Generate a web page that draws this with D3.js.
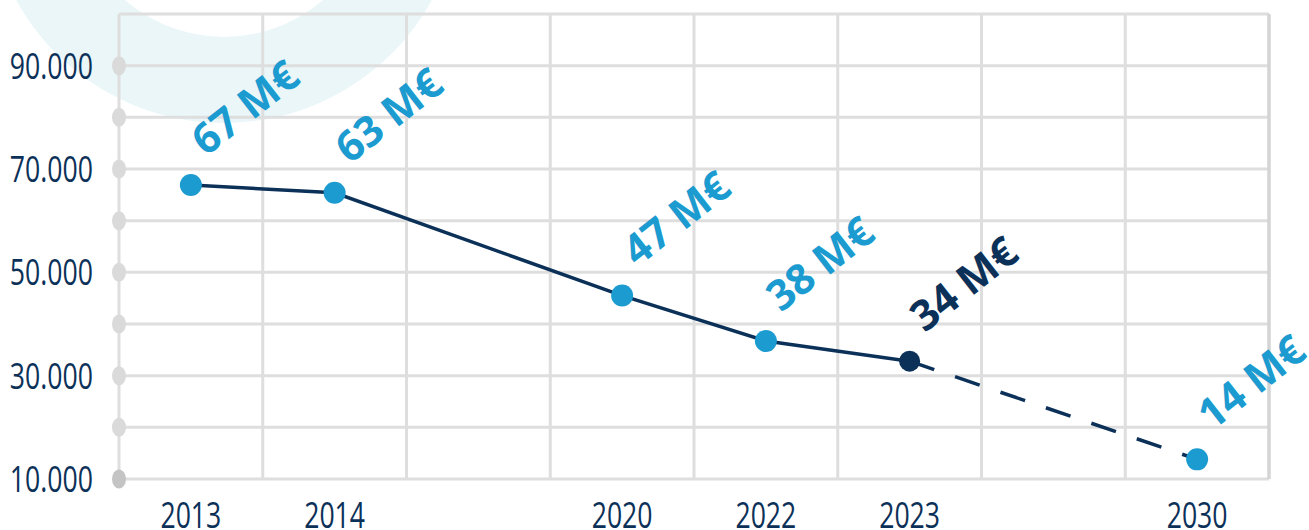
<!DOCTYPE html>
<html>
<head>
<meta charset="utf-8">
<script src="https://cdn.jsdelivr.net/npm/d3@7"></script>
<style>
  html, body { margin: 0; padding: 0; background: #fff; }
  svg { display: block; }
</style>
</head>
<body>
<svg id="chart" width="1309" height="530"></svg>
<script>
// ---- data ----
const slots = ["2013", "2014", "gapA", "2020", "2022", "2023", "gapB", "2030"];
const years = ["2013", "2014", "2020", "2022", "2023", "2030"];
const values = [66900, 65400, 45500, 36700, 32800, 13800];
const valueLabels = ["67 M€", "63 M€", "47 M€", "38 M€", "34 M€", "14 M€"];
const projected = [false, false, false, false, false, true];
const currentYear = "2023";
const yTickLabels = [10000, 30000, 50000, 70000, 90000];
const yDomain = [10000, 100000];

// ---- layout ----
const W = 1309, H = 530;
const margin = { left: 119, right: 40, top: 14, bottom: 51 };
const svg = d3.select("#chart");

const x = d3.scaleBand().domain(slots).range([margin.left, W - margin.right]).padding(0);
const y = d3.scaleLinear().domain(yDomain).range([H - margin.bottom, margin.top]);

const navy = "#0c3159";
const blue = "#1b9bd0";
const grid = "#dedede";
const axisFont = "'Open Sans', 'Noto Sans', sans-serif";
const squeeze = 0.74;

// background ring
svg.append("path")
  .attr("fill", "#eaf6f8")
  .attr("d", d3.arc()({ innerRadius: 151, outerRadius: 237, startAngle: 0, endAngle: 2 * Math.PI }))
  .attr("transform", "translate(224,-114)");

// grid
const gGrid = svg.append("g");
const yGridVals = d3.range(yDomain[0], yDomain[1] + 1, 10000);
gGrid.selectAll("line.h").data(yGridVals).join("line")
  .attr("x1", x.range()[0]).attr("x2", x.range()[1])
  .attr("y1", d => y(d)).attr("y2", d => y(d))
  .attr("stroke", grid).attr("stroke-width", 3);
const xBounds = slots.map(s => x(s)).concat([x.range()[1]]);
gGrid.selectAll("line.v").data(xBounds).join("line")
  .attr("x1", d => d).attr("x2", d => d)
  .attr("y1", y(yDomain[0])).attr("y2", y(yDomain[1]))
  .attr("stroke", (d, i) => i === xBounds.length - 1 ? "#d4d4d4" : grid)
  .attr("stroke-width", (d, i) => i === xBounds.length - 1 ? 3.5 : 3);

// y-axis dots
gGrid.selectAll("ellipse").data(yGridVals.slice(0, -1)).join("ellipse")
  .attr("cx", x.range()[0]).attr("cy", d => y(d))
  .attr("rx", 7).attr("ry", 9.5)
  .attr("fill", (d, i) => i === 0 ? "#c4c4c4" : "#dadada");

// y labels
const fmt = d3.formatLocale({ decimal: ",", thousands: ".", grouping: [3], currency: ["", "€"] }).format(",");
svg.append("g").selectAll("text").data(yTickLabels).join("text")
  .attr("transform", d => `translate(93,${y(d)}) scale(${squeeze},1)`)
  .attr("dy", "0.36em")
  .attr("text-anchor", "end")
  .attr("font-family", axisFont)
  .attr("font-size", 36)
  .attr("fill", navy)
  .text(d => fmt(d));

// x labels
const cx = yr => x(yr) + x.bandwidth() / 2;
svg.append("g").selectAll("text").data(years).join("text")
  .attr("transform", d => `translate(${cx(d)},528) scale(${squeeze},1)`)
  .attr("text-anchor", "middle")
  .attr("font-family", axisFont)
  .attr("font-size", 36)
  .attr("fill", navy)
  .text(d => d);

// lines
const pts = years.map((yr, i) => ({ yr, v: values[i], proj: projected[i], label: valueLabels[i] }));
const line = d3.line().x(d => cx(d.yr)).y(d => y(d.v));
const solid = pts.filter(d => !d.proj);
const lastSolid = solid[solid.length - 1];
const dashed = [lastSolid].concat(pts.filter(d => d.proj));
svg.append("path").attr("d", line(solid))
  .attr("fill", "none").attr("stroke", navy).attr("stroke-width", 3.5);
svg.append("path").attr("d", line(dashed))
  .attr("fill", "none").attr("stroke", navy).attr("stroke-width", 3.5)
  .attr("stroke-dasharray", "26 22");

// points
svg.append("g").selectAll("circle").data(pts).join("circle")
  .attr("cx", d => cx(d.yr)).attr("cy", d => y(d.v))
  .attr("r", d => d.yr === currentYear ? 10.5 : 11)
  .attr("fill", d => d.yr === currentYear ? navy : blue);

// value labels
svg.append("g").selectAll("text").data(pts).join("text")
  .attr("transform", d => `translate(${cx(d.yr) + 15},${y(d.v) - 28}) rotate(-38)`)
  .attr("font-family", "'Open Sans', sans-serif")
  .attr("font-weight", 700)
  .attr("font-size", 42)
  .attr("fill", d => d.yr === currentYear ? navy : blue)
  .text(d => d.label);
</script>
</body>
</html>
